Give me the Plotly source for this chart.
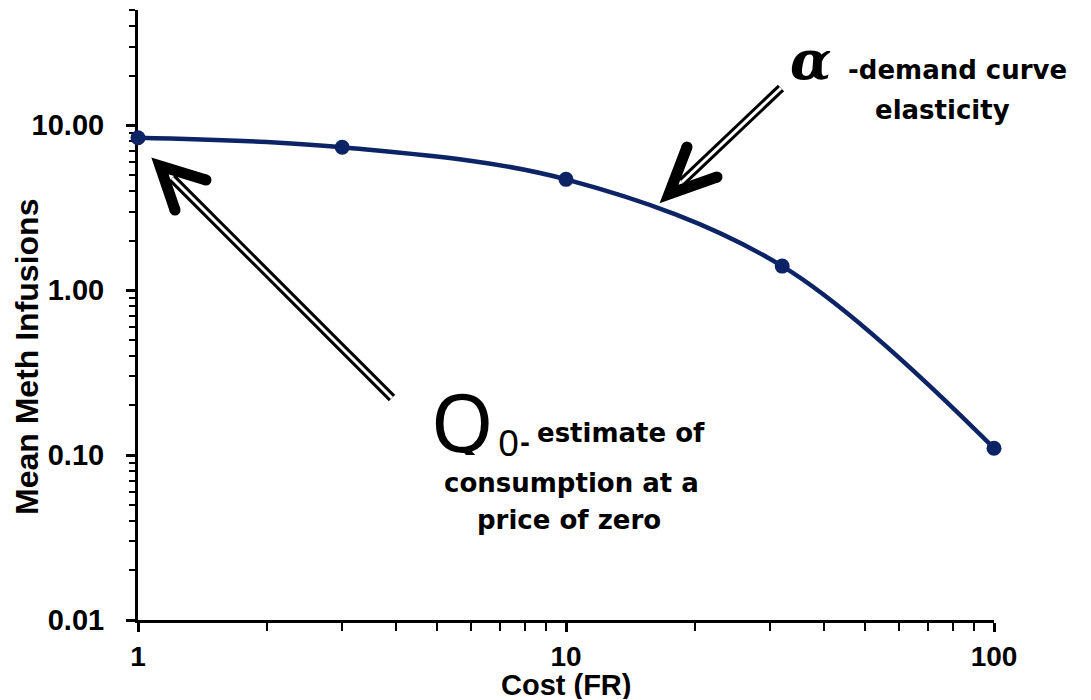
import plotly.graph_objects as go

# Demand data: cost (fixed-ratio requirement) vs. mean methamphetamine infusions
cost_fr = [1, 3, 10, 32, 100]
mean_infusions = [8.4, 7.35, 4.7, 1.4, 0.11]

x_tick_vals = [1, 10, 100]
x_tick_text = ["1", "10", "100"]
y_tick_vals = [0.01, 0.1, 1, 10]

x_title = "Cost (FR)"
y_title = "Mean Meth Infusions"

curve_color = "#0c2466"
axis_font = "Liberation Sans, Arial, sans-serif"
note_font = "DejaVu Sans, sans-serif"

# Plot-area frame in page pixels (used to place the callouts)
W_PX, H_PX = 1091, 700
L, R, T, B = 138, 994, 10, 620


def fx(xp):
    return (xp - L) / (R - L)


def fy(yp):
    return (B - yp) / (B - T)


fig = go.Figure()
fig.add_trace(
    go.Scatter(
        x=cost_fr,
        y=mean_infusions,
        mode="lines+markers",
        line=dict(color=curve_color, width=4.5, shape="spline", smoothing=1.0),
        marker=dict(color=curve_color, size=15),
        cliponaxis=False,
        showlegend=False,
    )
)

shapes = []


def hollow_arrow(tail, neck, tip, arm1, arm2):
    """Double-line arrow with a heavy open chevron head (pixel coords)."""
    shaft = dict(type="line", xref="paper", yref="paper",
                 x0=fx(tail[0]), y0=fy(tail[1]), x1=fx(neck[0]), y1=fy(neck[1]))
    shapes.append(dict(shaft, line=dict(color="black", width=9)))
    shapes.append(dict(shaft, line=dict(color="white", width=3)))
    path = "M {} {} L {} {} L {} {}".format(
        fx(arm1[0]), fy(arm1[1]), fx(tip[0]), fy(tip[1]), fx(arm2[0]), fy(arm2[1]))
    shapes.append(dict(type="path", xref="paper", yref="paper", path=path,
                       line=dict(color="black", width=11)))
    r = 5.5
    for ax_, ay_ in (arm1, arm2):
        shapes.append(dict(type="circle", xref="paper", yref="paper",
                           x0=fx(ax_ - r), x1=fx(ax_ + r), y0=fy(ay_ + r), y1=fy(ay_ - r),
                           fillcolor="black", line=dict(width=0)))


# Q0 callout arrow, pointing at the intercept
hollow_arrow(tail=(392, 398), neck=(172, 178), tip=(160, 166),
             arm1=(206, 180), arm2=(175, 210))
# alpha callout arrow, pointing at the slope of the curve
hollow_arrow(tail=(781, 88), neck=(682, 182), tip=(669, 194),
             arm1=(687, 147), arm2=(717, 177))


def note(text, xp, yp, size, xanchor="left", family=note_font, weight="bold",
         italic=False, angle=0, box_h=None):
    ann = dict(
        text=text, xref="paper", yref="paper", x=fx(xp), y=fy(yp),
        xanchor=xanchor, yanchor="middle", showarrow=False, textangle=angle,
        font=dict(family=family, size=size, color="black", weight=weight,
                  style="italic" if italic else "normal"),
    )
    if box_h is not None:
        ann["height"] = box_h
    return ann


annotations = [
    note("α", 788, 60, 54, family="DejaVu Serif, serif", weight="bold", italic=True),
    note("-demand curve", 846, 70, 26),
    note("elasticity", 942, 110, 26, xanchor="center"),
    note("Q", 429, 420, 80, family="Noto Sans, sans-serif", weight="normal", box_h=70),
    note("0", 496, 441, 37, family="Noto Sans, sans-serif", weight="normal", box_h=30),
    note("-", 518, 443, 24, weight="bold", box_h=20),
    note("estimate of", 535, 433, 26),
    note("consumption at a", 571, 483, 26, xanchor="center"),
    note("price of zero", 569, 520, 26, xanchor="center"),
    # axis titles
    note(y_title, 27, 357, 32, xanchor="center", family=axis_font, angle=-90),
    note(x_title, 566, 685, 29, xanchor="center", family=axis_font, box_h=28),
]

fig.update_layout(
    width=W_PX,
    height=H_PX,
    margin=dict(l=L, r=W_PX - R, t=T, b=H_PX - B),
    paper_bgcolor="white",
    plot_bgcolor="white",
    shapes=shapes,
    annotations=annotations,
    xaxis=dict(
        type="log",
        range=[0, 2],
        automargin=False,
        tickvals=x_tick_vals,
        ticktext=x_tick_text,
        ticks="outside",
        ticklen=9,
        tickwidth=2.5,
        tickcolor="black",
        minor=dict(ticks="outside", ticklen=8, tickwidth=2, tickcolor="black", dtick="D1"),
        showline=True,
        linecolor="black",
        linewidth=3,
        showgrid=False,
        zeroline=False,
        layer="below traces",
        ticklabelstandoff=0,
        tickfont=dict(family=axis_font, size=28, color="black", weight="bold"),
    ),
    yaxis=dict(
        type="log",
        range=[-2, 1.69897],
        automargin=False,
        tickvals=y_tick_vals,
        tickformat=".2f",
        ticks="outside",
        ticklen=9,
        tickwidth=2.5,
        tickcolor="black",
        minor=dict(ticks="outside", ticklen=6, tickwidth=2, tickcolor="black", dtick="D1"),
        showline=True,
        linecolor="black",
        linewidth=3,
        showgrid=False,
        zeroline=False,
        layer="below traces",
        ticklabelstandoff=16,
        tickfont=dict(family=axis_font, size=29, color="black", weight="bold"),
    ),
)

fig.write_html("out.html")
